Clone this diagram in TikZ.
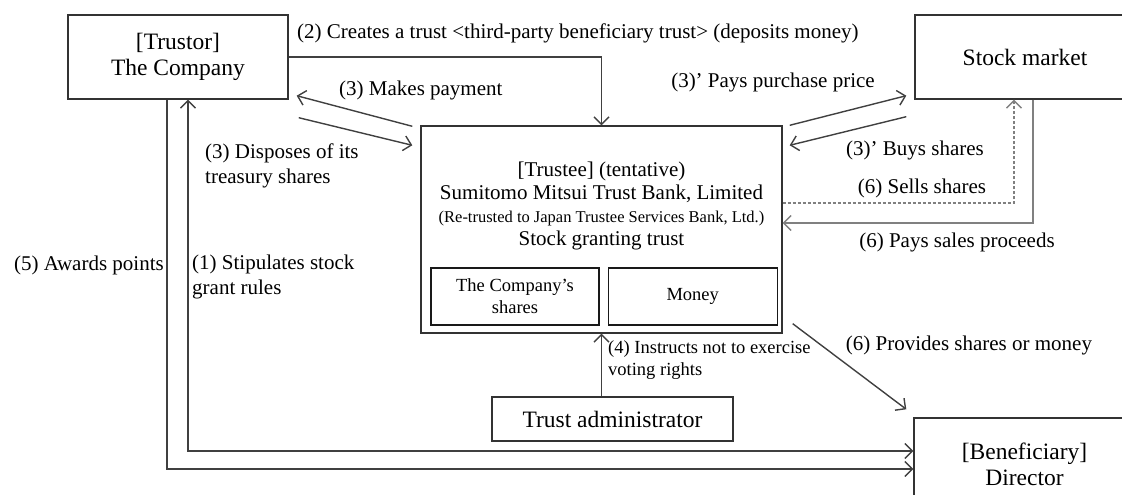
\documentclass[tikz,border=0pt]{standalone}
\usepackage{fontspec}
\setmainfont{Liberation Serif}
\usetikzlibrary{arrows.meta,positioning,calc}

\begin{document}
\begin{tikzpicture}[
    x=1pt, y=-1pt,
    >={Straight Barb[length=7.5pt,width=15pt]},
    party/.style={draw=black!80, line width=1.4pt, inner sep=0pt, align=center,
                  font=\fontsize{23.5}{26}\selectfont},
    holding/.style={draw=black!90, line width=1.2pt, inner sep=0pt, align=center,
                    minimum width=168pt, minimum height=57pt,
                    font=\fontsize{18.5}{22}\selectfont},
    note/.style={inner sep=0pt, align=left, font=\fontsize{21}{25}\selectfont},
    flow/.style={->, line width=1.4pt, draw=black!75},
  ]
  \useasboundingbox (0,0) rectangle (1122,495);

  % === Parties ===
  \node[party, minimum width=220pt, minimum height=84pt] (company) at (178,57)
    {[Trustor]\\The Company};
  \node[party, minimum width=220pt, minimum height=84pt] (market) at (1025,57)
    {Stock market};
  \node[party, minimum width=361pt, minimum height=207pt] (trustee) at (601.5,229.5) {};
  \node[party, minimum width=241pt, minimum height=44pt] (admin) at (612.5,419)
    {Trust administrator};
  \node[party, minimum width=221pt, minimum height=92pt] (benef) at (1024.5,464)
    {[Beneficiary]\\Director};

  % === Trust contents ===
  \node[align=center, inner sep=0pt, font=\fontsize{21}{22.7}\selectfont] (trusteetxt) at (601.5,206)
    {[Trustee] (tentative)\\Sumitomo Mitsui Trust Bank, Limited\\
     {\fontsize{16.5}{22.7}\selectfont (Re-trusted to Japan Trustee Services Bank, Ltd.)}\\
     Stock granting trust};
  \node[holding] (shares) at (515,296.5) {The Company’s\\shares};
  \node[holding, minimum width=169pt, right=8pt of shares] (money) {Money};

  % === Company <-> trust ===
  \draw[flow] (company.east) -| (trustee.north);
  \node[note, anchor=west] (lblcreate) at (297,33)
    {(2) Creates a trust <third-party beneficiary trust> (deposits money)};

  \draw[flow] ([xshift=-8pt,yshift=-1pt]trustee.north west)
    -- ([xshift=8pt,yshift=4pt]company.south east);
  \node[note, anchor=west] (lblpay) at (339,90) {(3) Makes payment};

  \draw[flow] ([xshift=10pt,yshift=-18pt]company.south east)
    -- ([xshift=-8pt,yshift=-20pt]trustee.north west);
  \node[note, anchor=west] (lbldispose) at (205,166)
    {(3) Disposes of its\\treasury shares};

  % === Trust <-> stock market ===
  \draw[flow] ([xshift=7pt]trustee.north east)
    -- ([xshift=-8pt,yshift=4pt]market.south west);
  \node[note] (lblprice) at (773,82) {(3)’ Pays purchase price};

  \draw[flow] ([xshift=-8pt,yshift=-17pt]market.south west)
    -- ([xshift=7pt,yshift=-20pt]trustee.north east);
  \node[note] (lblbuy) at (915,150) {(3)’ Buys shares};

  \draw[flow, densely dashed, draw=gray] ([yshift=26.5pt]trustee.east)
    -| ([xshift=-11pt]market.south);
  \node[note] (lblsell) at (922,188) {(6) Sells shares};

  \draw[flow, draw=gray] ([xshift=8pt]market.south)
    |- ([yshift=6.5pt]trustee.east);
  \node[note] (lblproceeds) at (957,242) {(6) Pays sales proceeds};

  % === Trust -> director, administrator -> trust ===
  \draw[flow] ([xshift=10pt,yshift=10pt]trustee.south east)
    -- ([xshift=-7pt,yshift=8pt]benef.north west);
  \node[note] (lblprovide) at (969,345) {(6) Provides shares or money};

  \draw[flow] (trustee.south |- admin.north) -- (trustee.south);
  \node[note, anchor=north west, font=\fontsize{18.5}{22}\selectfont] (lblvote) at (608,340)
    {(4) Instructs not to exercise\\voting rights};

  % === Company -> director ===
  \draw[flow, <->] ([xshift=10pt]company.south) |- ([yshift=13pt]benef.west);
  \node[note, anchor=west] (lblrules) at (192,277)
    {(1) Stipulates stock\\grant rules};

  \draw[flow] ([xshift=-11pt]company.south) |- ([yshift=-5pt]benef.west);
  \node[note, anchor=east] (lblpoints) at (164,265) {(5) Awards points};

\end{tikzpicture}
\end{document}
